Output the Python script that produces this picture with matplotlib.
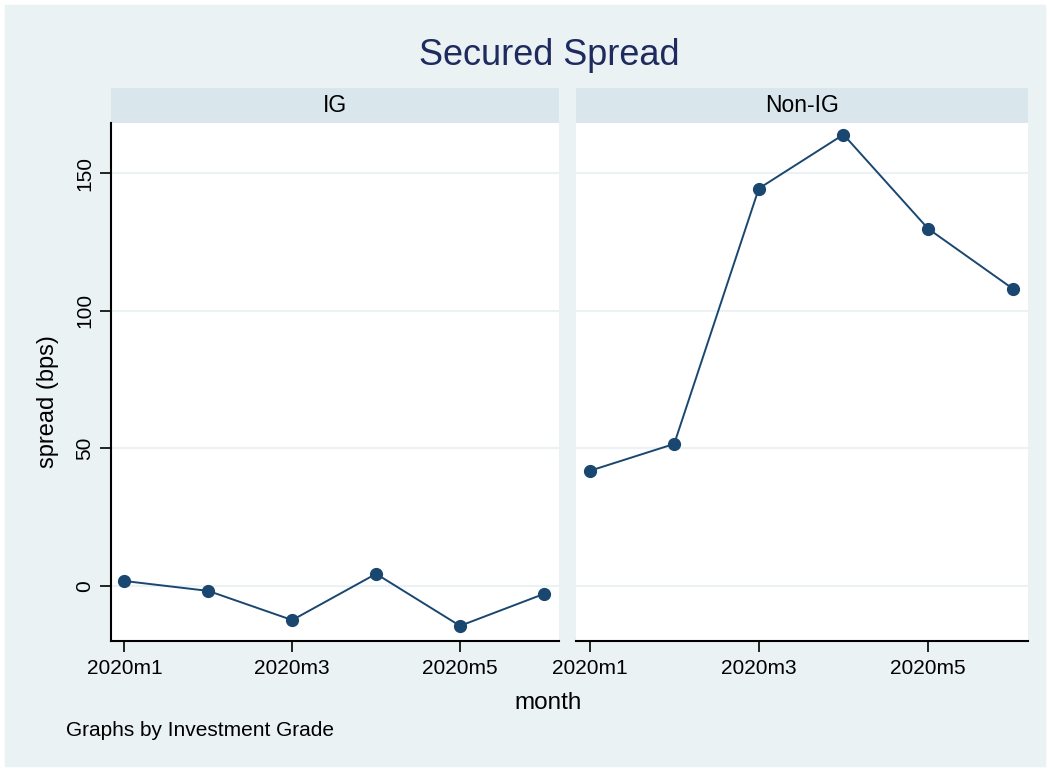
import matplotlib
matplotlib.use('Agg')
import matplotlib.pyplot as plt
import matplotlib.patches as patches

plt.rcParams['font.family'] = ['Liberation Sans', 'DejaVu Sans']

months = [1, 2, 3, 4, 5, 6]
tick_months = [1, 3, 5]
tick_labels = ['2020m1', '2020m3', '2020m5']
groups = ['IG', 'Non-IG']
ig_spread = [1.8, -1.8, -12.4, 4.4, -14.5, -2.9]
nonig_spread = [41.8, 51.6, 144.4, 164.0, 129.8, 108.0]
y_ticks = [0, 50, 100, 150]

navy = '#1a476f'
title_col = '#1f2b5e'
outer_bg = '#eaf2f3'
strip_bg = '#d9e6eb'
W, H = 1050, 771

def px(x0, y0, x1, y1):
    # pixel box -> figure fraction [left, bottom, width, height]
    return [x0 / W, 1 - y1 / H, (x1 - x0) / W, (y1 - y0) / H]

def draw_panel(rect, strip_rect, label, values, first):
    hdr = fig.add_axes(px(*strip_rect))
    hdr.set_facecolor(strip_bg)
    hdr.set_xticks([])
    hdr.set_yticks([])
    for s in hdr.spines.values():
        s.set_visible(False)
    hdr.text(0.5, 0.5, label, ha='center', va='center', fontsize=16.5)

    ax = fig.add_axes(px(*rect))
    ax.set_facecolor('white')
    ax.plot(months, values, color=navy, lw=1.4, marker='o', ms=8.5, zorder=3)
    ax.set_xlim(0.84, 6.18)
    ax.set_ylim(-20, 168.2)
    ax.set_yticks(y_ticks)
    ax.set_xticks(tick_months)
    ax.set_xticklabels(tick_labels, fontsize=15)
    ax.grid(axis='y', color=outer_bg, lw=1.5)
    ax.set_axisbelow(True)
    for s in ['top', 'right']:
        ax.spines[s].set_visible(False)
    ax.spines['bottom'].set_linewidth(1.5)
    ax.tick_params(axis='x', length=8, width=1.2, pad=5)
    if first:
        ax.spines['left'].set_linewidth(1.5)
        ax.tick_params(axis='y', length=8, width=1.2, labelsize=15, pad=4)
        for t in ax.get_yticklabels():
            t.set_rotation(90)
            t.set_va('center')
    else:
        ax.spines['left'].set_visible(False)
        ax.tick_params(axis='y', length=0, labelleft=False)
    return ax

fig = plt.figure(figsize=(W / 100, H / 100), dpi=100, facecolor='white')
fig.patches.append(patches.Rectangle((5 / W, 5 / H), 1 - 10 / W, 1 - 10 / H,
                                     transform=fig.transFigure, color=outer_bg, zorder=-10))

fig.text(549 / W, 1 - 65 / H, 'Secured Spread', ha='center', va='baseline',
         fontsize=26, color=title_col)

draw_panel((111, 123, 559, 641), (111, 88, 559, 123), groups[0], ig_spread, True)
draw_panel((576, 123, 1028, 641), (576, 88, 1028, 123), groups[1], nonig_spread, False)

fig.text(48 / W, 1 - 402 / H, 'spread (bps)', ha='center', va='center',
         rotation=90, fontsize=17)
fig.text(548 / W, 1 - 703 / H, 'month', ha='center', va='center', fontsize=17.5)
fig.text(66 / W, 1 - 731 / H, 'Graphs by Investment Grade', ha='left', va='center', fontsize=15)

fig.savefig('out.png', dpi=100, facecolor=fig.get_facecolor())
